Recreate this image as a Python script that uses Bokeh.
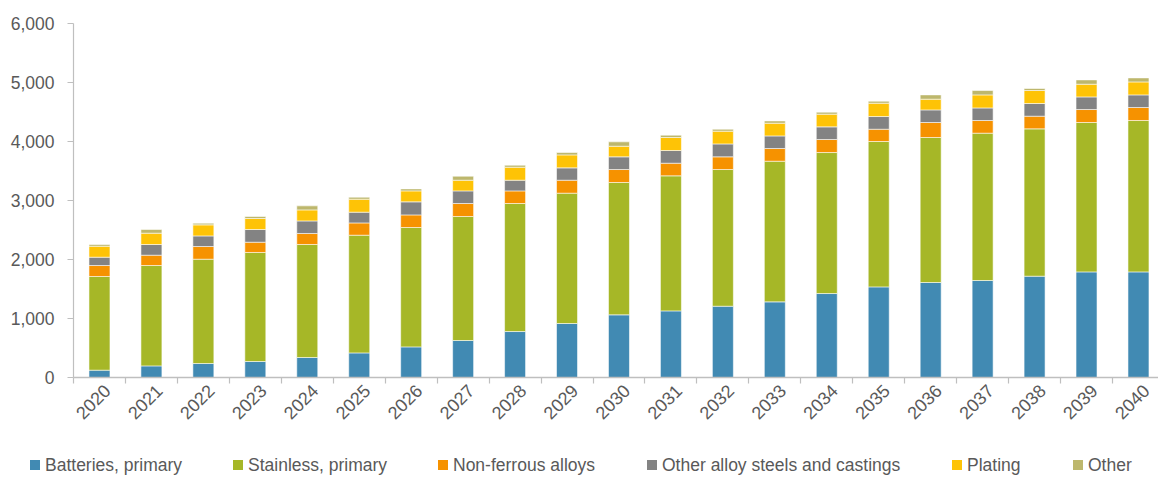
from math import pi
from bokeh.plotting import figure
from bokeh.layouts import column
from bokeh.models import (Range1d, FixedTicker, NumeralTickFormatter, ColumnDataSource, Div)
from bokeh.embed import file_html
from bokeh.resources import INLINE

years = [str(y) for y in range(2020, 2041)]
batteries = [124, 197, 237, 271, 339, 417, 519, 627, 779, 915, 1062, 1129, 1208, 1282, 1423, 1536, 1610, 1644, 1717, 1790, 1790]
stainless = [1588, 1701, 1768, 1848, 1915, 1995, 2023, 2102, 2170, 2209, 2243, 2289, 2317, 2384, 2390, 2464, 2458, 2497, 2497, 2532, 2566]
nonferrous = [186, 175, 215, 174, 187, 208, 214, 220, 214, 220, 220, 214, 215, 215, 221, 208, 254, 215, 215, 220, 220]
otheralloy = [141, 181, 180, 215, 213, 182, 221, 214, 181, 209, 215, 215, 219, 214, 214, 215, 214, 213, 215, 214, 214]
plating = [186, 192, 187, 187, 187, 220, 186, 181, 220, 220, 180, 221, 216, 215, 215, 226, 181, 221, 220, 215, 220]
other = [29, 62, 28, 34, 68, 34, 34, 68, 34, 40, 74, 39, 33, 39, 34, 34, 73, 74, 34, 73, 68]

series = ["Batteries, primary", "Stainless, primary", "Non-ferrous alloys",
          "Other alloy steels and castings", "Plating", "Other"]
keys = ["batteries", "stainless", "nonferrous", "otheralloy", "plating", "other"]
colors = ["#418AB3", "#A6B727", "#F69200", "#838383", "#FEC306", "#BDB76C"]

xs = list(range(len(years)))
source = ColumnDataSource(dict(x=xs, batteries=batteries, stainless=stainless,
                               nonferrous=nonferrous, otheralloy=otheralloy,
                               plating=plating, other=other))

FONT = "Liberation Sans"
FS = "17.5px"
TEXT = "#595959"
AXIS = "#BFBFBF"
STEP = 51.95  # px per category

p = figure(width=1158, height=453, output_backend="svg", toolbar_location=None,
           x_range=Range1d(-0.5, (1158 - 73) / STEP - 0.5), y_range=Range1d(0, 6000),
           min_border_left=73, min_border_top=23, min_border_bottom=76, min_border_right=0)
p.outline_line_color = None
p.xgrid.visible = False
p.ygrid.visible = False

p.vbar_stack(keys, x="x", width=0.404, source=source, color=colors,
             line_color="white", line_width=0.8, line_alpha=0.7)

# y axis
p.yaxis.ticker = FixedTicker(ticks=[0, 1000, 2000, 3000, 4000, 5000, 6000])
p.yaxis.formatter = NumeralTickFormatter(format="0,0")
p.yaxis.axis_line_color = AXIS
p.yaxis.axis_line_width = 1.2
p.yaxis.major_tick_line_color = AXIS
p.yaxis.major_tick_line_width = 1.2
p.yaxis.major_tick_out = 6
p.yaxis.major_tick_in = 0
p.yaxis.minor_tick_line_color = None
p.yaxis.major_label_standoff = 13
p.yaxis.major_label_text_font = FONT
p.yaxis.major_label_text_font_size = FS
p.yaxis.major_label_text_color = TEXT

# x axis: invisible major ticks (label anchors) + minor ticks at category boundaries
label_shift = 0.15
p.xaxis.ticker = FixedTicker(ticks=[i + label_shift for i in xs],
                             minor_ticks=[i - 0.5 for i in range(len(years) + 1)])
p.xaxis.major_label_overrides = {i + label_shift: y for i, y in zip(xs, years)}
p.xaxis.major_label_orientation = pi / 4
p.xaxis.axis_line_color = AXIS
p.xaxis.axis_line_width = 1.5
p.xaxis.major_tick_line_color = None
p.xaxis.major_tick_out = 0
p.xaxis.major_tick_in = 0
p.xaxis.minor_tick_line_color = AXIS
p.xaxis.minor_tick_line_width = 1.2
p.xaxis.minor_tick_out = 6
p.xaxis.minor_tick_in = 0
p.xaxis.major_label_standoff = 4
p.xaxis.major_label_text_font = FONT
p.xaxis.major_label_text_font_size = "18px"
p.xaxis.major_label_text_color = TEXT

# legend strip (HTML) below the chart
legend_left = [30, 233, 438, 647, 952, 1073]
items = []
for name, col, left in zip(series, colors, legend_left):
    items.append(
        f'<span style="position:absolute;left:{left}px;top:7px;width:10px;height:10px;'
        f'background:{col};"></span>'
        f'<span style="position:absolute;left:{left + 15}px;top:0px;height:24px;line-height:24px;'
        f'white-space:nowrap;font-family:\'{FONT}\';font-size:{FS};color:{TEXT};">{name}</span>'
    )
legend_html = ('<div style="position:relative;width:1158px;height:24px;">'
               + "".join(items) + '</div>')
legend_div = Div(text=legend_html, width=1158, height=24, margin=(0, 0, 0, 0))

layout = column(p, legend_div, spacing=0)
open("out.html", "w").write(file_html(layout, INLINE))
